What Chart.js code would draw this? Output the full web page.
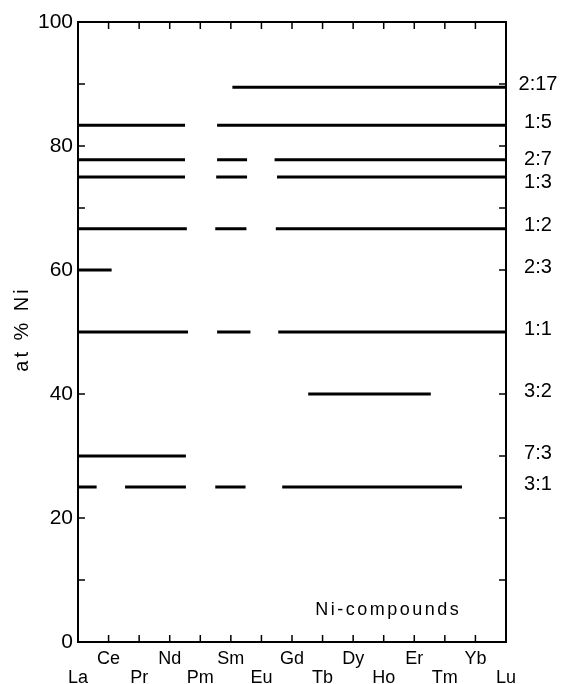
<!DOCTYPE html>
<html>
<head>
<meta charset="utf-8">
<script src="https://cdn.jsdelivr.net/npm/chart.js@4.4.0/dist/chart.umd.min.js"></script>
<style>
  html, body { margin: 0; padding: 0; background: #fff; }
  #wrap { width: 563px; height: 684px; position: relative; }
</style>
</head>
<body>
<div id="wrap"><canvas id="myChart"></canvas></div>
<script>
// rare earth elements along the x axis (index 0..14)
const elements = ['La', 'Ce', 'Pr', 'Nd', 'Pm', 'Sm', 'Eu', 'Gd', 'Tb', 'Dy', 'Ho', 'Er', 'Tm', 'Yb', 'Lu'];

// compound stoichiometries (R:Ni) and their Ni content in at %
const phases = ['2:17', '1:5', '2:7', '1:3', '1:2', '2:3', '1:1', '3:2', '7:3', '3:1'];
const niPercent = [89.47, 83.33, 77.78, 75, 66.67, 60, 50, 40, 30, 25];

// existence ranges for each compound, in element-index units
const ranges = [
  [[5.05, 14]],
  [[0, 3.5], [4.55, 14]],
  [[0, 3.5], [4.55, 5.53], [6.43, 14]],
  [[0, 3.5], [4.52, 5.53], [6.51, 14]],
  [[0, 3.56], [4.49, 5.51], [6.47, 14]],
  [[0, 1.1]],
  [[0, 3.6], [4.55, 5.64], [6.55, 14]],
  [[7.53, 11.54]],
  [[0, 3.53]],
  [[0, 0.61], [1.54, 3.53], [4.49, 5.48], [6.68, 12.56]]
];

const yTicks = [0, 20, 40, 60, 80, 100];

function segmentPoints(segs, y) {
  const pts = [];
  segs.forEach((s, i) => {
    if (i > 0) pts.push({ x: (segs[i - 1][1] + s[0]) / 2, y: null });
    pts.push({ x: s[0], y: y }, { x: s[1], y: y });
  });
  return pts;
}

const datasets = phases.map((p, k) => ({
  label: p,
  data: segmentPoints(ranges[k], niPercent[k]),
  borderColor: '#000',
  borderWidth: 3,
  borderCapStyle: 'butt',
  pointRadius: 0,
  spanGaps: false,
  fill: false
}));

const FONT = '"Liberation Sans", Arial, sans-serif';

// box frame with inward ticks, phase labels on the right, axis title, inset caption
const framePlugin = {
  id: 'frame',
  afterDatasetsDraw(chart) {
    const { ctx, chartArea: a, scales: { x, y } } = chart;
    ctx.save();
    ctx.strokeStyle = '#000';
    ctx.lineWidth = 2;
    ctx.strokeRect(a.left, a.top, a.right - a.left, a.bottom - a.top);

    ctx.lineWidth = 1.5;
    ctx.beginPath();
    for (let v = 10; v < 100; v += 10) {
      const py = y.getPixelForValue(v);
      ctx.moveTo(a.left, py); ctx.lineTo(a.left + 7, py);
      ctx.moveTo(a.right, py); ctx.lineTo(a.right - 7, py);
    }
    for (let i = 1; i < elements.length - 1; i++) {
      const px = x.getPixelForValue(i);
      ctx.moveTo(px, a.top); ctx.lineTo(px, a.top + 7);
      ctx.moveTo(px, a.bottom); ctx.lineTo(px, a.bottom - 7);
    }
    ctx.stroke();

    // phase labels beside the right axis
    const shift = { '1:3': 5, '2:7': 0 };
    ctx.fillStyle = '#000';
    ctx.font = '20px ' + FONT;
    ctx.textAlign = 'center';
    ctx.textBaseline = 'middle';
    phases.forEach((p, k) => {
      const dy = p in shift ? shift[p] : -3;
      ctx.fillText(p, a.right + 32, y.getPixelForValue(niPercent[k]) + dy);
    });

    ctx.font = '18px ' + FONT;
    ctx.letterSpacing = '2.5px';
    ctx.fillText('Ni-compounds', x.getPixelForValue(10.15), y.getPixelForValue(5.2));

    // y axis title, spaced out
    ctx.font = '20px ' + FONT;
    ctx.letterSpacing = '3px';
    ctx.translate(22, (a.top + a.bottom) / 2 - 3);
    ctx.rotate(-Math.PI / 2);
    ctx.fillText('at % Ni', 0, 0);
    ctx.restore();
  }
};

const ctx = document.getElementById('myChart').getContext('2d');

const config = {
  type: 'line',
  data: { datasets: datasets },
  options: {
    responsive: true,
    maintainAspectRatio: false,
    animation: false,
    layout: { padding: { top: 22, right: 57, bottom: 0, left: 0 } },
    plugins: {
      legend: { display: false },
      tooltip: { enabled: false }
    },
    scales: {
      x: {
        type: 'linear',
        min: 0,
        max: elements.length - 1,
        grid: { display: false, drawTicks: false },
        border: { display: false },
        afterFit: s => { s.height = 42; },
        ticks: {
          stepSize: 1,
          autoSkip: false,
          maxRotation: 0,
          padding: 8,
          color: '#000',
          font: { family: FONT, size: 18, lineHeight: 1.05 },
          callback: v => (v % 2 ? [elements[v], ''] : ['', elements[v]])
        }
      },
      y: {
        min: 0,
        max: 100,
        grid: { display: false, drawTicks: false },
        border: { display: false },
        afterFit: s => { s.width = 78; },
        afterBuildTicks: s => { s.ticks = yTicks.map(v => ({ value: v })); },
        ticks: {
          padding: 5,
          color: '#000',
          font: { family: FONT, size: 21 }
        }
      }
    }
  },
  plugins: [framePlugin]
};

var myChart = new Chart(ctx, config);
</script>
</body>
</html>
